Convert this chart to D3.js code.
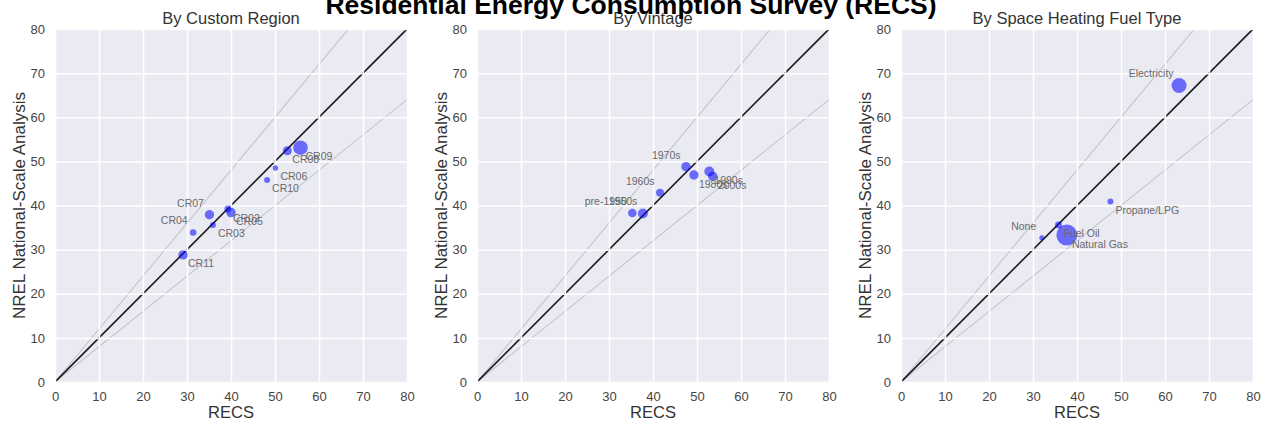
<!DOCTYPE html>
<html>
<head>
<meta charset="utf-8">
<script src="https://cdn.jsdelivr.net/npm/d3@7"></script>
<style>
  html, body { margin: 0; padding: 0; background: #ffffff; }
  svg { display: block; }
  text { font-family: "Liberation Sans", Arial, sans-serif; }
</style>
</head>
<body>
<svg id="chart" width="1262" height="421"></svg>
<script>
// ---------------- DATA ----------------
const figureTitle = "Residential Energy Consumption Survey (RECS)";
const panelTitles = ["By Custom Region", "By Vintage", "By Space Heating Fuel Type"];
const xAxisLabel = "RECS";
const yAxisLabel = "NREL National-Scale Analysis";
const tickValues = [0, 10, 20, 30, 40, 50, 60, 70, 80];

// Panel 1: custom regions
const regionNames  = ["CR02", "CR03", "CR04", "CR05", "CR06", "CR07", "CR08", "CR09", "CR10", "CR11"];
const regionRecs   = [39.3, 35.9, 31.4, 40.0, 50.1, 35.1, 52.8, 55.8, 48.2, 29.1];
const regionNrel   = [39.2, 35.6, 33.9, 38.4, 48.5, 37.9, 52.4, 53.1, 45.8, 28.8];
const regionWeight = [5.4, 4.0, 4.8, 9.8, 3.2, 9.8, 9.0, 23.7, 4.0, 9.8];

// Panel 2: vintage
const vintageNames  = ["pre-1950", "1950s", "1960s", "1970s", "1980s", "1990s", "2000s"];
const vintageRecs   = [35.3, 37.7, 41.6, 47.5, 49.3, 52.8, 53.6];
const vintageNrel   = [38.3, 38.2, 42.9, 48.8, 46.9, 47.7, 46.6];
const vintageWeight = [8.2, 11.0, 7.1, 9.8, 9.8, 11.0, 9.8];

// Panel 3: space heating fuel
const fuelNames  = ["Electricity", "Natural Gas", "Propane/LPG", "Fuel Oil", "None"];
const fuelRecs   = [63.2, 37.7, 47.6, 35.8, 32.0];
const fuelNrel   = [67.2, 33.3, 40.9, 35.6, 32.7];
const fuelWeight = [25.0, 49.0, 4.0, 5.4, 2.8];

// Reference lines: slopes of y = k * x
const refSlopes = [1.2, 0.8];

// ---------------- LAYOUT ----------------
const svg = d3.select("#chart");
const plotLefts = [55, 477, 901];
const plotTop = 29, plotSize = 352, plotHeight = 353;

const panels = [
  { names: regionNames, xs: regionRecs, ys: regionNrel, ws: regionWeight },
  { names: vintageNames, xs: vintageRecs, ys: vintageNrel, ws: vintageWeight },
  { names: fuelNames, xs: fuelRecs, ys: fuelNrel, ws: fuelWeight }
];

const rScale = d3.scaleSqrt().domain([0, 100]).range([0, 15]);

panels.forEach((p, i) => {
  const left = plotLefts[i];
  const x = d3.scaleLinear().domain([0, 80]).range([0, plotSize]);
  const y = d3.scaleLinear().domain([0, 80]).range([plotHeight, 0]);
  const g = svg.append("g").attr("transform", `translate(${left},${plotTop})`);

  const clipId = "clip" + i;
  g.append("clipPath").attr("id", clipId)
    .append("rect").attr("width", plotSize).attr("height", plotHeight);

  g.append("rect").attr("width", plotSize).attr("height", plotHeight).attr("fill", "#EAEAF2");

  const inner = g.append("g").attr("clip-path", `url(#${clipId})`);

  // reference lines (drawn beneath grid, as in the original)
  refSlopes.forEach(k => {
    inner.append("line")
      .attr("x1", x(0)).attr("y1", y(0))
      .attr("x2", x(100)).attr("y2", y(100 * k))
      .attr("stroke", "#c4c4cc").attr("stroke-width", 1.1);
  });
  inner.append("line")
    .attr("x1", x(0)).attr("y1", y(0))
    .attr("x2", x(80)).attr("y2", y(80))
    .attr("stroke", "#1a1a1a").attr("stroke-width", 1.6);

  // grid
  const xGrid = d3.axisBottom(x).tickValues(tickValues).tickSize(-plotHeight).tickFormat("");
  const yGrid = d3.axisLeft(y).tickValues(tickValues).tickSize(-plotSize).tickFormat("");
  const gx = inner.append("g").attr("transform", `translate(0,${plotHeight})`).call(xGrid);
  const gy = inner.append("g").call(yGrid);
  [gx, gy].forEach(a => {
    a.select(".domain").remove();
    a.selectAll("line").attr("stroke", "#ffffff").attr("stroke-width", 1.5);
  });

  // points
  const data = p.names.map((n, j) => ({ name: n, rx: p.xs[j], ny: p.ys[j], w: p.ws[j] }));
  g.selectAll("circle.pt").data(data).enter().append("circle")
    .attr("class", "pt")
    .attr("cx", d => x(d.rx)).attr("cy", d => y(d.ny))
    .attr("r", d => rScale(d.w))
    .attr("fill", "#0000ff").attr("fill-opacity", 0.55);

  // labels: above-left when the model value exceeds RECS, below-right otherwise
  g.selectAll("text.lbl").data(data).enter().append("text")
    .attr("class", "lbl")
    .attr("x", d => d.ny > d.rx ? x(d.rx) - 5.5 : x(d.rx) + 5)
    .attr("y", d => d.ny > d.rx ? y(d.ny) - 8 : y(d.ny) + 12.5)
    .attr("text-anchor", d => d.ny > d.rx ? "end" : "start")
    .attr("font-size", 10.5).attr("fill", "#6a6a6a")
    .text(d => d.name);

  // axes tick labels
  const xAx = d3.axisBottom(x).tickValues(tickValues).tickSize(0).tickPadding(10);
  const yAx = d3.axisLeft(y).tickValues(tickValues).tickSize(0).tickPadding(10);
  const ax = g.append("g").attr("transform", `translate(0,${plotHeight})`).call(xAx);
  const ay = g.append("g").call(yAx);
  [ax, ay].forEach(a => {
    a.select(".domain").remove();
    a.selectAll("text").attr("font-size", 13).attr("fill", "#444")
      .attr("font-family", '"Liberation Sans", Arial, sans-serif');
  });

  // titles and axis labels
  g.append("text")
    .attr("x", plotSize / 2).attr("y", -5.5)
    .attr("text-anchor", "middle").attr("font-size", 16.5).attr("fill", "#333")
    .text(panelTitles[i]);
  g.append("text")
    .attr("x", plotSize / 2).attr("y", plotHeight + 36)
    .attr("text-anchor", "middle").attr("font-size", 16.5).attr("fill", "#333")
    .text(xAxisLabel);
  g.append("text")
    .attr("transform", `translate(-30,${plotHeight / 2}) rotate(-90)`)
    .attr("text-anchor", "middle").attr("font-size", 17).attr("fill", "#333")
    .text(yAxisLabel);
});

// figure title drawn last so it sits on top, as in the original
svg.append("text")
  .attr("x", 631).attr("y", 14)
  .attr("text-anchor", "middle")
  .attr("font-size", 26.5).attr("font-weight", "bold")
  .attr("fill", "#000")
  .text(figureTitle);
</script>
</body>
</html>
